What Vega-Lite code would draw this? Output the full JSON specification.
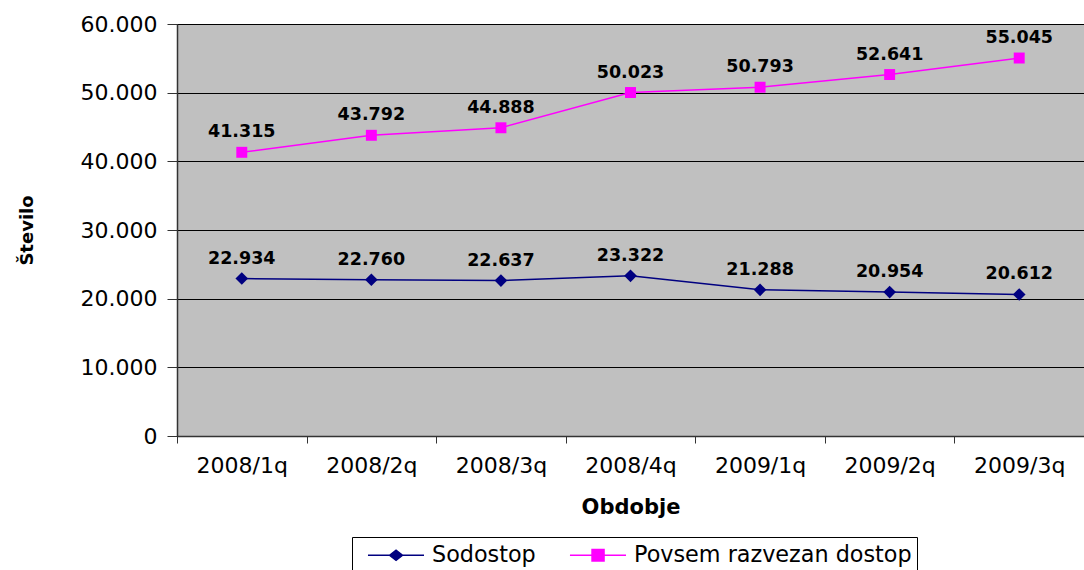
{
  "$schema": "https://vega.github.io/schema/vega-lite/v6.json",
  "width": 907,
  "height": 412,
  "autosize": {"type": "none"},
  "padding": {"left": 177, "top": 24, "right": 0, "bottom": 134},
  "background": "white",
  "config": {
    "locale": {"number": {"decimal": ",", "thousands": ".", "grouping": [3], "currency": ["", " €"]}},
    "font": "DejaVu Sans",
    "view": {"fill": "#C0C0C0", "stroke": "#000000", "strokeWidth": 1}
  },
  "data": {
    "values": [
      {"period": "2008/1q", "series": "Sodostop", "value": 22934},
      {"period": "2008/2q", "series": "Sodostop", "value": 22760},
      {"period": "2008/3q", "series": "Sodostop", "value": 22637},
      {"period": "2008/4q", "series": "Sodostop", "value": 23322},
      {"period": "2009/1q", "series": "Sodostop", "value": 21288},
      {"period": "2009/2q", "series": "Sodostop", "value": 20954},
      {"period": "2009/3q", "series": "Sodostop", "value": 20612},
      {"period": "2008/1q", "series": "Povsem razvezan dostop", "value": 41315},
      {"period": "2008/2q", "series": "Povsem razvezan dostop", "value": 43792},
      {"period": "2008/3q", "series": "Povsem razvezan dostop", "value": 44888},
      {"period": "2008/4q", "series": "Povsem razvezan dostop", "value": 50023},
      {"period": "2009/1q", "series": "Povsem razvezan dostop", "value": 50793},
      {"period": "2009/2q", "series": "Povsem razvezan dostop", "value": 52641},
      {"period": "2009/3q", "series": "Povsem razvezan dostop", "value": 55045}
    ]
  },
  "encoding": {
    "x": {
      "field": "period", "type": "nominal", "sort": null, "bandPosition": 0.5,
      "scale": {"type": "band", "paddingInner": 0, "paddingOuter": 0},
      "axis": {
        "title": "Obdobje", "titleFont": "DejaVu Sans", "titleFontSize": 21, "titleFontWeight": "bold",
        "titleColor": "#000", "titlePadding": 20,
        "labelAngle": 0, "labelFont": "DejaVu Sans", "labelFontSize": 22, "labelColor": "#000", "labelPadding": 12,
        "tickBand": "extent", "tickSize": 7, "tickColor": "#333", "domainColor": "#333", "domainWidth": 1.5, "grid": false
      }
    },
    "y": {
      "field": "value", "type": "quantitative",
      "scale": {"domain": [0, 60000], "nice": false},
      "axis": {
        "title": "Število", "titleFont": "DejaVu Sans", "titleFontSize": 18, "titleFontWeight": "bold",
        "titleColor": "#000", "titlePadding": 44,
        "values": [0, 10000, 20000, 30000, 40000, 50000, 60000], "format": ",d",
        "labelFont": "DejaVu Sans", "labelFontSize": 22, "labelColor": "#000", "labelPadding": 10,
        "tickSize": 10, "tickColor": "#333", "domainColor": "#333", "domainWidth": 1.5,
        "grid": true, "gridColor": "#000", "gridWidth": 1, "gridOpacity": 1
      }
    }
  },
  "layer": [
    {
      "mark": {"type": "line", "strokeWidth": 1.5},
      "encoding": {
        "color": {
          "field": "series", "type": "nominal",
          "scale": {"domain": ["Sodostop", "Povsem razvezan dostop"], "range": ["#000080", "#FF00FF"]},
          "legend": {
            "title": null, "orient": "none", "legendX": 175, "legendY": 513, "direction": "horizontal",
            "labelFont": "DejaVu Sans", "labelFontSize": 22.3, "labelColor": "#000", "labelLimit": 0,
            "symbolSize": 576, "symbolStrokeWidth": 1.5,
            "strokeColor": "#000", "padding": 5, "columnPadding": 23, "labelOffset": 49,
            "encode": {
              "symbols": {
                "update": {
                  "shape": {"signal": "datum.value === 'Sodostop' ? 'M-0.17,0H4.5M1.63,0L2.17,-0.42L2.71,0L2.17,0.42Z' : 'M-0.17,0H4.5M1.67,-0.48H2.67V0.48H1.67Z'"},
                  "fill": {"signal": "datum.value === 'Sodostop' ? '#000080' : '#FF00FF'"},
                  "fillOpacity": {"value": 1}
                }
              }
            }
          }
        }
      }
    },
    {
      "transform": [{"filter": "datum.series === 'Sodostop'"}],
      "mark": {"type": "point", "shape": "diamond", "filled": true, "opacity": 1, "size": 160, "color": "#000080"}
    },
    {
      "transform": [{"filter": "datum.series !== 'Sodostop'"}],
      "mark": {"type": "point", "shape": "square", "filled": true, "opacity": 1, "size": 120, "color": "#FF00FF"}
    },
    {
      "mark": {"type": "text", "dy": -20, "fontSize": 17.5, "fontWeight": "bold", "font": "DejaVu Sans", "color": "#000"},
      "encoding": {
        "text": {"field": "value", "type": "quantitative", "format": ",d"}
      }
    }
  ]
}
